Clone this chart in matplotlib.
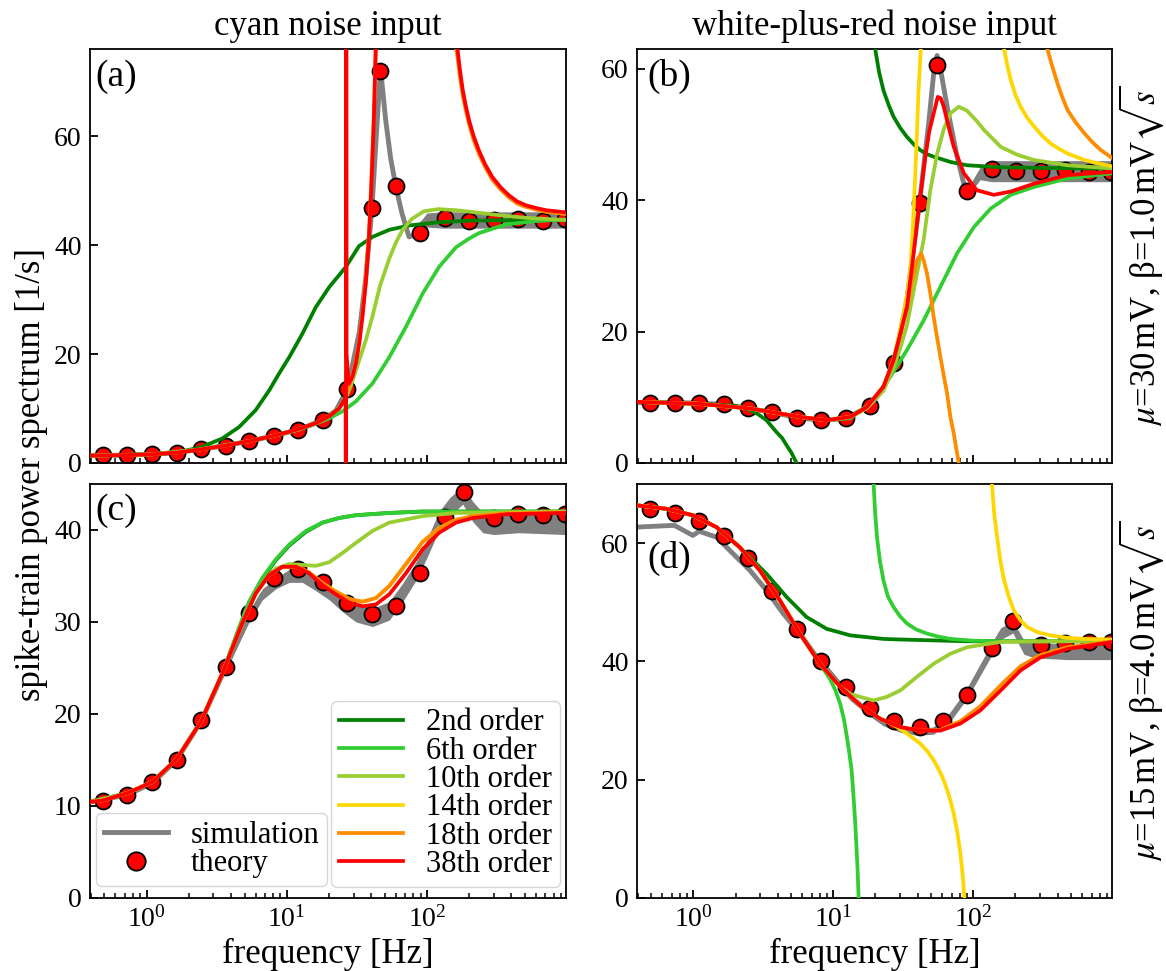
import numpy as np
import matplotlib
matplotlib.use('Agg')
import matplotlib.pyplot as plt
from matplotlib.lines import Line2D

nan = np.nan

# ---------------- labels ----------------
col_titles = ['cyan noise input', 'white-plus-red noise input']
row_labels = [r'$\mu$=30$\,$mV, β=1.0$\,$mV$\sqrt{s}$',
              r'$\mu$=15$\,$mV, β=4.0$\,$mV$\sqrt{s}$']
panel_tags = ['(a)', '(b)', '(c)', '(d)']
order_labels = ['2nd order', '6th order', '10th order', '14th order', '18th order', '38th order']
order_colors = ['green', 'limegreen', 'yellowgreen', 'gold', 'darkorange', 'red']
xlabel = 'frequency [Hz]'
ylabel = 'spike-train power spectrum [1/s]'

# ---------------- panel (a) ----------------
A_dot_f = [0.49, 0.73, 1.10, 1.64, 2.45, 3.66, 5.38, 8.13, 12.1, 18.1, 27.1, 40.5, 46.2, 60.1, 89.1, 135, 200, 299, 449, 670, 957]
A_dot_y = [1.4, 1.5, 1.6, 1.9, 2.6, 3.1, 4.0, 4.9, 6.0, 7.8, 13.6, 46.8, 71.9, 50.8, 42.2, 45.0, 44.5, 44.6, 44.7, 44.5, 44.8]
A_sim_f = [0.40, 0.73, 1.10, 1.64, 2.45, 3.66, 5.38, 8.13, 12.1, 18.1, 22.4, 27.1, 32.9, 36.6, 40.5, 43.5, 46.6, 50.7, 55.0, 60.1, 66.0, 70.5, 74.5, 80.0, 88.0, 100, 130, 200, 400, 972]
A_sim_y = [1.35, 1.45, 1.6, 1.9, 2.5, 3.2, 4.0, 5.0, 6.1, 7.9, 9.6, 13.6, 24.0, 34.0, 46.8, 60.0, 72.5, 63.0, 56.0, 50.6, 46.0, 43.5, 41.5, 41.8, 43.5, 44.6, 44.6, 44.6, 44.6, 44.6]
A_sim_hw = [0, 0, 0, 0, 0, 0, 0, 0, 0, 0, 0, 0, 0, 0, 0, 0, 0, 0, 0, 0, 0, 0, 0, 0, 0.6, 1.3, 1.5, 1.5, 1.5, 1.5]
A_o2_f = [0.40, 1.10, 1.64, 2.45, 3.47, 4.57, 6.00, 7.48, 8.80, 10.4, 12.9, 16.1, 20.1, 26.4, 32.7, 40.9, 53.8, 74.8, 122, 212, 972]
A_o2_y = [1.35, 1.6, 1.9, 2.9, 4.5, 6.6, 9.7, 13.3, 16.4, 19.4, 23.7, 28.6, 32.3, 36.0, 39.8, 41.5, 42.8, 43.6, 44.2, 44.5, 44.6]
A_o6_f = [0.40, 1.10, 2.45, 5.38, 8.13, 12.1, 16.1, 20.1, 25.0, 31.1, 40.9, 53.8, 70.8, 93.1, 122, 161, 200, 235, 367, 600, 972]
A_o6_y = [1.35, 1.6, 2.5, 4.0, 5.0, 6.1, 7.2, 8.2, 9.5, 11.3, 14.6, 19.4, 25.0, 31.1, 36.0, 39.6, 41.2, 42.2, 43.8, 44.4, 44.7]
A_o10_f = [0.40, 1.10, 2.45, 5.38, 8.13, 12.1, 18.1, 22.4, 25.8, 28.5, 31.1, 36.6, 40.9, 46.2, 53.8, 60.1, 67.0, 78.0, 95.0, 120, 160, 222, 350, 507, 972]
A_o10_y = [1.35, 1.6, 2.5, 4.0, 5.0, 6.1, 7.9, 9.5, 11.3, 14.0, 17.0, 22.5, 27.0, 32.5, 37.5, 40.5, 42.8, 44.8, 46.2, 46.6, 46.4, 46.0, 45.4, 45.0, 44.6]
A_o18_f = [0.40, 0.73, 1.10, 1.64, 2.45, 3.66, 5.38, 8.13, 12.1, 16.1, 20.1, 23.6, 25.8, 27.6, 29.4, 31.1, 32.9, 34.7, 36.6, 38.5, 40.0, 41.8, 43.3, 100,
           158, 165, 172, 180, 190, 199.5, 215, 235, 260, 292, 335, 385, 440, 507, 600, 705, 830, 972]
A_o18_y = [1.35, 1.45, 1.6, 1.9, 2.5, 3.2, 4.0, 5.0, 6.2, 7.3, 8.6, 10.0, 11.6, 14.0, 16.0, 18.8, 22.5, 27.5, 34.0, 42.0, 51.0, 64.0, 78.0, nan,
           78.0, 74.5, 70.8, 67.4, 64.5, 62.2, 59.3, 56.7, 54.3, 52.0, 50.2, 48.7, 47.6, 47.0, 46.5, 46.1, 45.9, 45.7]
A_o38_f = [0.40, 0.73, 1.10, 1.64, 2.45, 3.66, 5.38, 8.13, 12.1, 16.1, 20.1, 23.6, 25.8, 26.3, 26.4, 26.5, 26.7, 27.6, 29.4, 31.1, 32.9, 34.7, 36.6, 38.5, 40.0, 41.8, 43.5, 100,
           160, 165, 172, 180, 190, 199.5, 215, 235, 260, 292, 335, 385, 440, 507, 600, 705, 830, 972]
A_o38_y = [1.35, 1.45, 1.6, 1.9, 2.5, 3.2, 4.0, 5.0, 6.2, 7.3, 8.6, 10.0, 11.6, 12.3, -150, 300, 20.0, 14.5, 15.8, 18.3, 22.0, 27.0, 33.0, 41.0, 50.0, 63.0, 80.0, nan,
           80.0, 76.0, 72.0, 68.4, 65.3, 62.9, 60.0, 57.3, 54.8, 52.5, 50.6, 49.1, 48.0, 47.3, 46.8, 46.4, 46.2, 46.0]

# ---------------- panel (b) ----------------
B_dot_f = [0.491, 0.736, 1.094, 1.645, 2.46, 3.67, 5.52, 8.2, 12.3, 18.3, 27.2, 41.3, 55.1, 90.3, 135, 203, 303, 453, 673, 962]
B_dot_y = [9.2, 9.1, 9.1, 8.9, 8.3, 7.7, 6.9, 6.5, 6.8, 8.7, 15.2, 39.6, 60.5, 41.4, 44.8, 44.4, 44.4, 44.6, 44.2, 44.3]
B_sim_f = [0.389, 0.736, 1.094, 1.645, 2.46, 3.67, 5.52, 8.2, 12.3, 18.3, 22.8, 27.2, 33.6, 41.3, 48.0, 52.1, 55.1, 58.2, 65.0, 76.6, 85.5, 95.3, 112, 135, 200, 400, 1000]
B_sim_y = [9.2, 9.2, 9.1, 8.9, 8.3, 7.7, 6.9, 6.5, 6.8, 8.7, 11.5, 15.2, 25.0, 39.6, 51.7, 59.3, 62.0, 60.0, 54.2, 46.6, 42.5, 41.5, 44.1, 44.4, 44.4, 44.4, 44.4]
B_sim_hw = [0, 0, 0, 0, 0, 0, 0, 0, 0, 0, 0, 0, 0, 0, 0, 0, 0, 0, 0, 0, 0, 0.3, 1.0, 1.6, 1.6, 1.6, 1.6]
B_o2_f = [0.389, 1.107, 2.0, 2.53, 2.9, 3.33, 3.92, 4.3, 4.63, 5.0, 5.46, 5.7, 10,
          19.0, 19.9, 21.2, 22.8, 24.8, 26.9, 30.0, 33.6, 37.5, 41.8, 46.5, 52.1, 60.0, 68.6, 90.3, 157, 300, 1000]
B_o2_y = [9.3, 9.0, 8.7, 8.1, 7.4, 6.5, 4.7, 3.8, 2.7, 1.6, 0.0, -2.0, nan,
          70.0, 63.0, 59.5, 56.7, 54.5, 52.7, 51.0, 49.6, 48.5, 47.6, 47.0, 46.6, 46.2, 45.8, 45.3, 45.0, 44.9, 44.8]
B_o6_f = [0.389, 1.107, 2.53, 5.77, 8.96, 13.2, 18.3, 25.5, 33.6, 44.2, 58.2, 76.6, 101, 133, 185, 272, 471, 1000]
B_o6_y = [9.3, 9.0, 8.3, 7.0, 6.5, 6.8, 9.0, 13.1, 17.2, 21.7, 26.8, 31.9, 35.9, 38.7, 40.8, 42.0, 43.3, 44.1]
B_o10_f = [0.389, 1.107, 2.53, 5.77, 8.96, 13.2, 17.3, 22.8, 26.9, 30.1, 33.6, 38.5, 44.2, 49.3, 55.1, 61.5, 68.6, 78.7, 90.3, 106, 119, 157, 206, 272, 471, 1000]
B_o10_y = [9.3, 9.0, 8.3, 7.0, 6.5, 7.0, 8.3, 11.0, 14.5, 17.5, 21.0, 27.5, 34.0, 41.5, 47.0, 50.8, 53.2, 54.2, 53.6, 52.0, 50.7, 48.1, 46.9, 46.1, 45.3, 44.8]
B_o14_f = [0.389, 1.107, 2.53, 5.77, 8.96, 13.2, 17.3, 22.8, 26.9, 30.1, 33.6, 35.5, 37.0, 38.5, 39.6, 40.6, 42.3, 43.2, 100,
           160, 166, 175, 185, 200, 218, 243, 272, 310, 357, 410, 471, 540, 620, 780, 1000]
B_o14_y = [9.3, 9.0, 8.3, 7.0, 6.5, 7.0, 8.5, 11.6, 15.8, 20.3, 25.5, 29.5, 36.0, 44.1, 50.5, 56.7, 63.5, 70.0, nan,
           66.0, 63.0, 60.5, 58.3, 56.0, 54.2, 52.5, 51.2, 49.8, 48.6, 47.8, 47.1, 46.6, 46.1, 45.6, 45.1]
B_o18_f = [0.389, 1.107, 2.53, 5.77, 8.96, 13.2, 17.3, 22.8, 26.9, 30.1, 33.6, 36.3, 39.6, 42.3, 44.2, 46.7, 49.3, 52.1, 55.0, 58.2, 61.5, 64.9, 68.6, 72.5, 75.5, 78.7, 80.5, 100,
           330, 338, 365, 399, 430, 471, 540, 620, 710, 816, 1000]
B_o18_y = [9.3, 9.0, 8.3, 7.0, 6.5, 7.0, 8.5, 11.6, 15.6, 19.5, 23.5, 27.5, 30.8, 31.9, 30.8, 28.8, 25.8, 22.2, 19.2, 16.1, 13.3, 10.6, 7.0, 4.5, 2.2, 0.0, -2.0, nan,
           66.0, 63.0, 60.5, 57.8, 55.8, 53.7, 51.8, 50.2, 48.8, 47.6, 46.3]
B_o38_f = [0.389, 1.107, 2.53, 5.77, 8.96, 13.2, 17.3, 22.8, 26.9, 30.1, 33.6, 36.3, 39.6, 42.3, 45.4, 48.5, 52.1, 55.7, 58.5, 61.5, 66.0, 72.5, 85.5, 106, 140, 185, 272, 471, 1000]
B_o38_y = [9.3, 9.0, 8.3, 7.0, 6.5, 7.0, 8.5, 11.6, 15.6, 19.7, 23.8, 29.5, 36.4, 41.5, 46.6, 50.5, 53.2, 55.7, 55.5, 54.2, 51.5, 48.1, 44.1, 41.5, 40.8, 41.3, 42.5, 43.8, 44.3]

# ---------------- panel (c) ----------------
C_dot_f = [0.488, 0.73, 1.10, 1.64, 2.45, 3.66, 5.38, 8.13, 12.1, 18.1, 27.1, 40.5, 60.1, 89.1, 135, 185, 299, 449, 670, 957]
C_dot_y = [10.5, 11.2, 12.6, 15.0, 19.3, 25.1, 31.0, 34.8, 35.8, 34.3, 32.1, 30.9, 31.7, 35.3, 41.4, 44.1, 41.3, 41.7, 41.6, 41.7]
C_sim_f = [0.398, 0.73, 1.10, 1.64, 2.45, 3.66, 5.38, 6.70, 8.35, 10.4, 12.9, 16.1, 20.1, 25.0, 31.1, 40.9, 53.8, 67.0, 83.4, 100, 122, 145, 180, 212, 250, 300, 450, 972]
C_sim_y = [10.45, 11.2, 12.5, 15.0, 19.2, 25.0, 30.5, 33.0, 34.2, 35.0, 35.0, 34.2, 33.2, 32.0, 31.0, 30.5, 31.2, 33.2, 35.5, 38.0, 41.0, 42.5, 43.8, 42.0, 40.8, 40.6, 40.8, 40.6]
C_sim_hw = [0, 0, 0, 0, 0, 0.2, 0.5, 0.6, 0.6, 0.7, 0.7, 0.8, 0.8, 0.9, 1.0, 1.0, 1.0, 1.0, 1.0, 1.0, 1.0, 1.0, 1.0, 1.1, 1.1, 1.1, 1.1, 1.1]
C_o2_f = [0.398, 0.73, 1.10, 1.64, 2.45, 3.47, 4.57, 5.38, 6.70, 8.35, 10.4, 13.7, 18.0, 23.6, 31.1, 53.8, 93.1, 972]
C_o2_y = [10.45, 11.4, 12.6, 15.1, 19.2, 24.4, 29.3, 32.1, 34.7, 36.7, 38.3, 39.8, 40.8, 41.3, 41.6, 41.85, 42.0, 42.0]
C_o6_f = [0.398, 0.73, 1.10, 1.64, 2.45, 3.47, 4.57, 5.38, 6.70, 8.35, 10.4, 13.7, 18.0, 23.6, 31.1, 53.8, 93.1, 972]
C_o6_y = [10.45, 11.4, 12.6, 15.1, 19.2, 24.4, 29.4, 32.2, 34.8, 36.8, 38.4, 39.9, 40.8, 41.3, 41.6, 41.85, 42.0, 42.0]
C_o10_f = [0.398, 0.73, 1.10, 1.64, 2.45, 3.47, 4.82, 6.00, 7.48, 8.35, 10.4, 12.9, 16.1, 20.1, 25.0, 31.1, 40.9, 53.8, 93.1, 161, 972]
C_o10_y = [10.45, 11.4, 12.6, 15.1, 19.2, 24.4, 29.9, 33.1, 35.1, 35.8, 36.3, 36.2, 36.1, 36.5, 37.5, 38.6, 39.9, 40.8, 41.5, 41.85, 42.0]
C_o14_f = [0.398, 0.488, 0.73, 1.10, 1.64, 2.45, 3.47, 4.82, 6.00, 7.48, 9.31, 11.6, 14.4, 18.0, 22.4, 27.9, 34.7, 43.2, 53.8, 70.8, 93.1, 122, 161, 212, 367, 972]
C_o14_y = [10.45, 10.6, 11.4, 12.6, 15.1, 19.2, 24.4, 29.9, 33.1, 35.1, 36.0, 36.0, 35.4, 34.2, 33.3, 32.5, 32.2, 32.6, 33.9, 36.3, 38.7, 40.2, 41.1, 41.5, 41.8, 41.9]
C_o18_f = [0.398, 0.488, 0.73, 1.10, 1.64, 2.45, 3.47, 4.82, 6.00, 7.48, 9.31, 11.6, 14.4, 18.0, 22.4, 27.9, 34.7, 43.2, 53.8, 70.8, 93.1, 122, 161, 212, 367, 972]
C_o18_y = [10.45, 10.6, 11.4, 12.6, 15.1, 19.2, 24.4, 29.9, 33.1, 35.1, 36.0, 36.0, 35.4, 34.2, 33.3, 32.5, 32.2, 32.6, 33.9, 36.3, 38.7, 40.2, 41.1, 41.5, 41.8, 41.9]
C_o38_f = [0.398, 0.488, 0.73, 1.10, 1.64, 2.45, 3.47, 4.82, 6.00, 7.48, 9.31, 11.6, 14.4, 18.0, 22.4, 27.9, 34.7, 43.2, 53.8, 70.8, 93.1, 122, 161, 212, 367, 972]
C_o38_y = [10.45, 10.6, 11.4, 12.6, 15.1, 19.2, 24.4, 29.9, 33.1, 35.1, 36.0, 36.0, 35.3, 34.0, 33.0, 32.1, 31.7, 31.9, 33.0, 35.3, 37.9, 39.7, 40.8, 41.3, 41.7, 41.85]

# ---------------- panel (d) ----------------
D_dot_f = [0.491, 0.736, 1.094, 1.645, 2.46, 3.67, 5.52, 8.2, 12.3, 18.3, 27.2, 41.3, 60.4, 90.3, 135, 192, 303, 453, 673, 962]
D_dot_y = [65.7, 65.1, 63.7, 61.2, 57.5, 51.9, 45.5, 40.1, 35.7, 32.2, 30.0, 28.9, 29.9, 34.3, 42.3, 46.9, 42.7, 43.1, 43.3, 43.3]
D_sim_f = [0.389, 0.73, 0.99, 1.10, 1.46, 1.92, 2.53, 3.33, 4.38, 5.77, 7.6, 10.0, 13.2, 17.3, 22.8, 30.1, 39.6, 52.1, 68.6, 90.3, 119, 157, 192, 230, 272, 471, 1000]
D_sim_y = [62.7, 63.0, 61.3, 62.0, 61.0, 58.2, 55.4, 52.0, 48.1, 44.7, 40.7, 37.4, 34.0, 31.7, 29.7, 28.6, 28.1, 28.3, 30.6, 34.5, 39.6, 44.7, 45.8, 42.4, 41.9, 41.6, 41.6]
D_sim_hw = [0, 0, 0, 0, 0, 0.3, 0.3, 0.4, 0.5, 0.5, 0.6, 0.6, 0.6, 0.6, 0.6, 0.6, 0.6, 0.6, 0.7, 0.8, 0.9, 1.0, 1.0, 1.2, 1.3, 1.3, 1.3]
D_o2_f = [0.389, 0.639, 0.99, 1.46, 2.14, 2.53, 3.33, 4.63, 6.43, 8.96, 13.2, 22.8, 30.1, 90.3, 1000]
D_o2_y = [66.4, 65.8, 64.7, 62.7, 59.3, 57.6, 54.8, 50.9, 47.5, 45.5, 44.4, 43.8, 43.7, 43.4, 43.4]
D_o6_f = [0.389, 0.639, 0.99, 1.46, 2.14, 2.98, 4.15, 5.77, 8.02, 9.46, 10.3, 11.2, 11.9, 12.5, 13.0, 13.5, 13.9, 14.3, 14.6, 14.9, 15.2, 17,
          19.2, 19.4, 19.9, 20.5, 21.5, 22.8, 24.5, 26.9, 30.0, 33.6, 39.0, 46.7, 56.0, 68.6, 100, 157, 1000]
D_o6_y = [66.4, 65.8, 64.7, 62.7, 59.3, 55.4, 50.3, 44.7, 39.6, 37.0, 35.2, 32.8, 30.2, 27.2, 24.5, 21.6, 17.5, 13.1, 9.0, 4.7, -1.0, nan,
          75.0, 69.9, 65.0, 61.0, 57.0, 53.7, 51.0, 49.2, 47.6, 46.4, 45.4, 44.7, 44.2, 43.8, 43.5, 43.4, 43.4]
D_o10_f = [0.389, 0.639, 0.99, 1.46, 2.14, 2.98, 4.15, 5.77, 8.02, 11.2, 13.2, 15.5, 19.4, 24.1, 30.1, 39.6, 52.1, 68.6, 90.3, 157, 1000]
D_o10_y = [66.4, 65.8, 64.7, 62.7, 59.3, 55.4, 50.3, 44.7, 39.6, 35.7, 34.5, 34.0, 33.4, 34.0, 35.1, 37.4, 39.6, 41.3, 42.4, 43.3, 43.5]
D_o14_f = [0.389, 0.639, 0.99, 1.46, 2.14, 2.98, 4.15, 5.77, 8.02, 11.2, 15.5, 21.6, 26.9, 33.6, 41.8, 47.0, 52.1, 57.0, 61.5, 67.0, 72.5, 77.0, 80.9, 84.0, 86.4, 88.0, 100,
           133, 136, 141, 148, 156, 166, 180, 195, 218, 243, 290, 357, 460, 620, 1000]
D_o14_y = [66.4, 65.8, 64.7, 62.7, 59.3, 55.4, 50.3, 44.7, 39.6, 35.7, 32.6, 30.3, 29.3, 27.8, 26.1, 24.8, 23.3, 21.6, 19.9, 17.3, 14.3, 11.0, 7.5, 3.8, 0.0, -3.0, nan,
           75.0, 69.9, 65.0, 61.0, 57.0, 53.7, 50.8, 48.6, 46.9, 45.8, 44.9, 44.4, 44.0, 43.8, 43.7]
D_o18_f = [0.389, 0.639, 0.99, 1.46, 2.14, 2.98, 4.15, 5.77, 8.02, 11.2, 15.5, 21.6, 30.1, 41.8, 58.2, 80.9, 112, 157, 218, 303, 471, 1000]
D_o18_y = [66.4, 65.8, 64.7, 62.7, 59.3, 55.4, 50.3, 44.7, 39.6, 35.7, 32.6, 30.3, 28.9, 28.3, 28.4, 29.9, 32.4, 36.0, 39.2, 41.1, 42.4, 43.4]
D_o38_f = [0.389, 0.639, 0.99, 1.46, 2.14, 2.98, 4.15, 5.77, 8.02, 11.2, 15.5, 21.6, 30.1, 41.8, 58.2, 80.9, 112, 157, 218, 303, 471, 1000]
D_o38_y = [66.4, 65.8, 64.7, 62.7, 59.3, 55.4, 50.3, 44.7, 39.6, 35.7, 32.6, 30.3, 28.9, 28.3, 28.3, 29.5, 31.7, 35.1, 38.5, 40.7, 42.1, 43.3]

# axis ranges / ticks
x_range = (0.395, 980)
y_ranges = [(0, 76), (0, 63), (0, 45), (0, 70)]
y_ticks = [[0, 20, 40, 60], [0, 20, 40, 60], [0, 10, 20, 30, 40], [0, 20, 40, 60]]

# ---------------- style ----------------
plt.rcParams['font.family'] = ['Liberation Serif', 'DejaVu Serif']
plt.rcParams['mathtext.fontset'] = 'stix'

fig = plt.figure(figsize=(11.66, 9.71), dpi=100)
rects = [[0.0772, 0.5232, 0.4082, 0.4264], [0.5463, 0.5232, 0.4074, 0.4264],
         [0.0772, 0.0752, 0.4082, 0.4264], [0.5463, 0.0752, 0.4074, 0.4264]]
axes = [fig.add_axes(r) for r in rects]

panels = [
    (A_sim_f, A_sim_y, A_sim_hw, A_dot_f, A_dot_y,
     [(A_o2_f, A_o2_y), (A_o6_f, A_o6_y), (A_o10_f, A_o10_y), None, (A_o18_f, A_o18_y), (A_o38_f, A_o38_y)]),
    (B_sim_f, B_sim_y, B_sim_hw, B_dot_f, B_dot_y,
     [(B_o2_f, B_o2_y), (B_o6_f, B_o6_y), (B_o10_f, B_o10_y), (B_o14_f, B_o14_y), (B_o18_f, B_o18_y), (B_o38_f, B_o38_y)]),
    (C_sim_f, C_sim_y, C_sim_hw, C_dot_f, C_dot_y,
     [(C_o2_f, C_o2_y), (C_o6_f, C_o6_y), (C_o10_f, C_o10_y), (C_o14_f, C_o14_y), (C_o18_f, C_o18_y), (C_o38_f, C_o38_y)]),
    (D_sim_f, D_sim_y, D_sim_hw, D_dot_f, D_dot_y,
     [(D_o2_f, D_o2_y), (D_o6_f, D_o6_y), (D_o10_f, D_o10_y), (D_o14_f, D_o14_y), (D_o18_f, D_o18_y), (D_o38_f, D_o38_y)]),
]

tag_pos = [(0.012, 0.975), (0.021, 0.975), (0.012, 0.978), (0.021, 0.862)]

store = []
for i, (ax, (sf, sy, shw, df, dy, orders)) in enumerate(zip(axes, panels)):
    sf = np.asarray(sf); sy = np.asarray(sy); shw = np.asarray(shw)
    ax.fill_between(sf, sy - shw, sy + shw, color='gray', lw=0, zorder=1)
    sim_line, = ax.plot(sf, sy, color='gray', lw=3.5, zorder=1.1)
    dots, = ax.plot(df, dy, 'o', ms=11.5, mfc='red', mec='black', mew=1.3, zorder=2)
    hs = []
    for cur, c, lab in zip(orders, order_colors, order_labels):
        if cur is None:
            hs.append(Line2D([], [], color=c, lw=2.7, label=lab))
            continue
        h, = ax.plot(cur[0], cur[1], color=c, lw=2.7, zorder=3, label=lab,
                     solid_joinstyle='round')
        hs.append(h)
    store.append((sim_line, dots, hs))

    ax.set_xscale('log')
    ax.set_xlim(*x_range)
    ax.set_ylim(*y_ranges[i])
    ax.set_yticks(y_ticks[i])
    ax.tick_params(which='both', direction='in', top=False, right=False, labelsize=20, pad=6)
    ax.tick_params(which='major', length=6, width=1.3)
    ax.tick_params(which='minor', length=3.5, width=1.1)
    for sp in ax.spines.values():
        sp.set_linewidth(1.3)
    ax.text(tag_pos[i][0], tag_pos[i][1], panel_tags[i], transform=ax.transAxes,
            ha='left', va='top', fontsize=27)
    if i < 2:
        ax.tick_params(axis='x', labelbottom=False)
        ax.set_title(col_titles[i], fontsize=25, pad=10)
    else:
        ax.set_xlabel(xlabel, fontsize=25, labelpad=4)

fig.text(0.027, 0.511, ylabel, rotation=90, ha='center', va='center', fontsize=25)
fig.text(0.9786, 0.5232 + 0.4264 / 2, row_labels[0], rotation=90, ha='center', va='center', fontsize=25)
fig.text(0.9786, 0.0752 + 0.4264 / 2, row_labels[1], rotation=90, ha='center', va='center', fontsize=25)

# legends in panel (c)
axc = axes[2]
sim_line, dots, hs = store[2]
leg_kw = dict(fontsize=22, borderpad=0.25, labelspacing=-0.02, handlelength=2.1,
              handletextpad=0.75, borderaxespad=0.0, framealpha=0.8, edgecolor='0.8')
leg1 = axc.legend([sim_line, dots], ['simulation', 'theory'], loc='lower left',
                  bbox_to_anchor=(0.0126, 0.029), markerscale=1.15, **leg_kw)
axc.add_artist(leg1)
leg2 = axc.legend(hs, order_labels, loc='lower right', bbox_to_anchor=(0.987, 0.027), **leg_kw)

fig.savefig('out.png', dpi=100)
